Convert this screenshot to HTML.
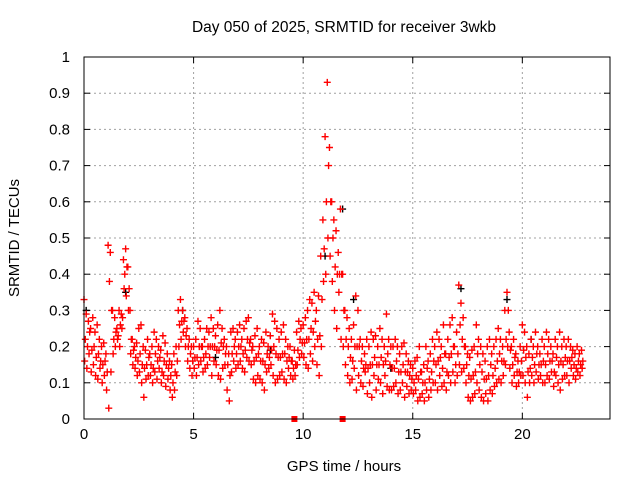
<!DOCTYPE html>
<html><head><meta charset="utf-8"><style>
html,body{margin:0;padding:0;background:#fff;}
svg{display:block;font-family:"Liberation Sans",Arial,sans-serif;}
</style></head><body>
<svg id="chart" width="640" height="480" viewBox="0 0 640 480">
<rect width="640" height="480" fill="#fff"/>
<text x="344" y="32" text-anchor="middle" font-size="15.5">Day 050 of 2025, SRMTID for receiver 3wkb</text>
<text x="344" y="471" text-anchor="middle" font-size="15">GPS time / hours</text>
<text transform="translate(19,238) rotate(-90)" text-anchor="middle" font-size="15">SRMTID / TECUs</text>
<g id="grid"></g>
<g id="ticks"></g>
<g id="marks"></g>
<rect x="84" y="57" width="526" height="362" fill="none" stroke="#000" stroke-width="1"/>
</svg>
<script>
const xTicks=[0,5,10,15,20];
const yTicks=[0,0.1,0.2,0.3,0.4,0.5,0.6,0.7,0.8,0.9,1];
const yTickLabels=["0","0.1","0.2","0.3","0.4","0.5","0.6","0.7","0.8","0.9","1"];
const upperSeries=[.33,.29,.27,.25,.28,.24,.26,.22,.2,.21,.18,.48,.46,.3,.28,.25,.3,.29,.44,.47,.42,.3,.22,.2,.21,.25,.26,.2,.19,.22,.18,.2,.24,.22,.2,.19,.23,.21,.18,.16,.15,.18,.2,.3,.33,.3,.28,.25,.22,.2,.2,.22,.27,.25,.2,.22,.25,.24,.28,.25,.23,.26,.3,.25,.22,.2,.18,.24,.25,.22,.24,.26,.22,.25,.27,.28,.22,.2,.23,.25,.2,.22,.21,.24,.2,.23,.29,.27,.25,.22,.24,.26,.22,.2,.2,.16,.19,.24,.27,.25,.26,.28,.3,.33,.32,.35,.3,.34,.45,.55,.78,.93,.75,.6,.55,.52,.46,.58,.4,.3,.28,.25,.22,.26,.34,.3,.22,.2,.18,.22,.2,.24,.22,.23,.2,.25,.22,.2,.29,.22,.2,.2,.22,.2,.18,.2,.21,.18,.16,.15,.14,.16,.17,.2,.13,.15,.2,.16,.18,.22,.2,.24,.22,.2,.26,.18,.22,.26,.28,.2,.24,.37,.32,.28,.2,.18,.17,.19,.2,.26,.22,.2,.18,.16,.2,.22,.18,.2,.22,.25,.22,.2,.3,.35,.24,.2,.22,.18,.16,.2,.26,.24,.2,.18,.22,.2,.24,.2,.18,.22,.2,.24,.22,.2,.18,.22,.2,.24,.2,.22,.2,.22,.2,.19,.18,.2,.18,.19];
const lowerSeries=[.16,.14,.18,.13,.15,.12,.11,.14,.1,.12,.08,.03,.13,.18,.2,.22,.2,.25,.36,.34,.3,.18,.15,.14,.12,.13,.1,.06,.11,.12,.12,.1,.13,.11,.14,.1,.12,.09,.11,.08,.06,.08,.12,.2,.22,.24,.2,.16,.14,.12,.14,.12,.15,.16,.13,.14,.15,.17,.12,.16,.15,.12,.11,.14,.15,.08,.05,.13,.16,.14,.15,.16,.14,.13,.17,.16,.15,.11,.1,.12,.11,.1,.08,.13,.14,.15,.12,.1,.11,.12,.13,.11,.1,.14,.12,.11,.12,.15,.17,.18,.17,.15,.14,.18,.16,.2,.15,.12,.2,.38,.4,.5,.45,.38,.3,.25,.35,.22,.2,.15,.12,.1,.11,.14,.08,.12,.1,.09,.13,.07,.1,.06,.12,.08,.11,.1,.07,.12,.09,.08,.08,.09,.1,.07,.08,.1,.06,.09,.07,.08,.07,.08,.05,.06,.07,.05,.08,.06,.08,.1,.1,.08,.12,.09,.1,.08,.12,.1,.13,.1,.12,.15,.13,.14,.1,.06,.05,.06,.07,.1,.08,.06,.05,.07,.05,.08,.07,.09,.1,.11,.1,.12,.15,.2,.14,.1,.12,.09,.1,.12,.12,.1,.06,.1,.12,.1,.13,.11,.12,.1,.1,.12,.11,.13,.09,.12,.1,.08,.11,.12,.12,.1,.14,.12,.11,.13,.12,.14];
const midSeries=[.22,.2,.24,.19,.2,.17,.18,.16,.15,.16,.13,.38,.3,.22,.24,.23,.26,.28,.4,.42,.36,.22,.19,.17,.16,.18,.15,.14,.15,.17,.15,.14,.18,.16,.17,.13,.16,.15,.14,.12,.1,.13,.16,.26,.27,.27,.23,.2,.18,.16,.17,.17,.2,.2,.17,.18,.2,.2,.2,.2,.19,.19,.21,.2,.18,.15,.12,.18,.2,.18,.2,.2,.18,.19,.22,.21,.19,.16,.17,.18,.16,.16,.15,.18,.17,.19,.2,.18,.17,.17,.18,.18,.16,.17,.16,.14,.15,.19,.22,.21,.21,.22,.22,.25,.24,.27,.22,.23,.33,.47,.6,.7,.6,.5,.42,.4,.4,.4,.3,.22,.2,.17,.16,.2,.2,.2,.16,.14,.15,.14,.15,.15,.17,.15,.15,.17,.15,.16,.18,.15,.14,.14,.16,.13,.13,.15,.13,.13,.12,.11,.1,.12,.11,.13,.1,.1,.14,.11,.13,.16,.15,.16,.17,.14,.18,.13,.17,.18,.2,.15,.18,.26,.22,.2,.15,.12,.11,.12,.13,.18,.15,.13,.11,.11,.12,.15,.12,.14,.16,.18,.16,.16,.22,.3,.19,.15,.17,.13,.13,.16,.19,.17,.13,.14,.17,.15,.18,.15,.15,.16,.15,.18,.16,.16,.13,.17,.15,.16,.15,.17,.16,.16,.17,.15,.14,.16,.15,.16];
const blackTimes=[0.1,1.9,4.5,6.0,8.5,11.0,11.8,12.3,14.0,17.2,19.3,20.4];
const blackValues=[.3,.35,.3,.17,.19,.45,.58,.33,.14,.36,.33,.22];
const squareTimes=[9.6,11.8];
const squareValues=[0,0];

const X0=84,X1=610,Y0=419,Y1=57,XMAX=24;
const sx=t=>X0+(X1-X0)*t/XMAX;
const sy=v=>Y0-(Y0-Y1)*v;
const NS="http://www.w3.org/2000/svg";
function mk(tag,attrs,parent){const e=document.createElementNS(NS,tag);for(const k in attrs)e.setAttribute(k,attrs[k]);parent.appendChild(e);return e;}
const grid=document.getElementById('grid'),ticks=document.getElementById('ticks'),marks=document.getElementById('marks');
xTicks.forEach(t=>{const x=sx(t);
 if(t>0){const g=mk('line',{x1:x,x2:x,y1:Y1,y2:Y0,stroke:'#a0a0a0','stroke-dasharray':'2,3'},grid);
 
 }
 mk('line',{x1:x,x2:x,y1:Y0,y2:Y0-6,stroke:'#000'},ticks);
 mk('line',{x1:x,x2:x,y1:Y1,y2:Y1+6,stroke:'#000'},ticks);
 const l=mk('text',{x:x,y:Y0+20,'text-anchor':'middle','font-size':'15'},ticks);l.textContent=String(t);
 
 });
yTicks.forEach((v,i)=>{const y=sy(v);
 if(v>0&&v<1){const g=mk('line',{x1:X0,x2:X1,y1:y,y2:y,stroke:'#a0a0a0','stroke-dasharray':'2,3'},grid);
 
 }
 mk('line',{x1:X0,x2:X0+6,y1:y,y2:y,stroke:'#000'},ticks);
 mk('line',{x1:X1,x2:X1-6,y1:y,y2:y,stroke:'#000'},ticks);
 const l=mk('text',{x:X0-14,y:y+5,'text-anchor':'end','font-size':'15'},ticks);l.textContent=yTickLabels[i];
 
 });
function plus(t,v,color,name){const x=sx(t),y=sy(v);
 const p=mk('path',{d:`M${x-3.5},${y}h7M${x},${y-3.5}v7`,stroke:color,'stroke-width':'1.4',fill:'none'},marks);
 
 }
blackTimes.forEach((t,i)=>plus(t,blackValues[i],'#000','black-point'));
upperSeries.forEach((v,i)=>plus(i*0.1,v,'#f00','red-point'));
lowerSeries.forEach((v,i)=>plus(i*0.1+0.03,v,'#f00','red-point'));
midSeries.forEach((v,i)=>plus(i*0.1+0.06,v,'#f00','red-point'));
squareTimes.forEach((t,i)=>{const s=mk('rect',{x:sx(t)-3,y:sy(squareValues[i])-3,width:6,height:6,fill:'#f00'},marks);
 
 });
</script>
</body></html>
